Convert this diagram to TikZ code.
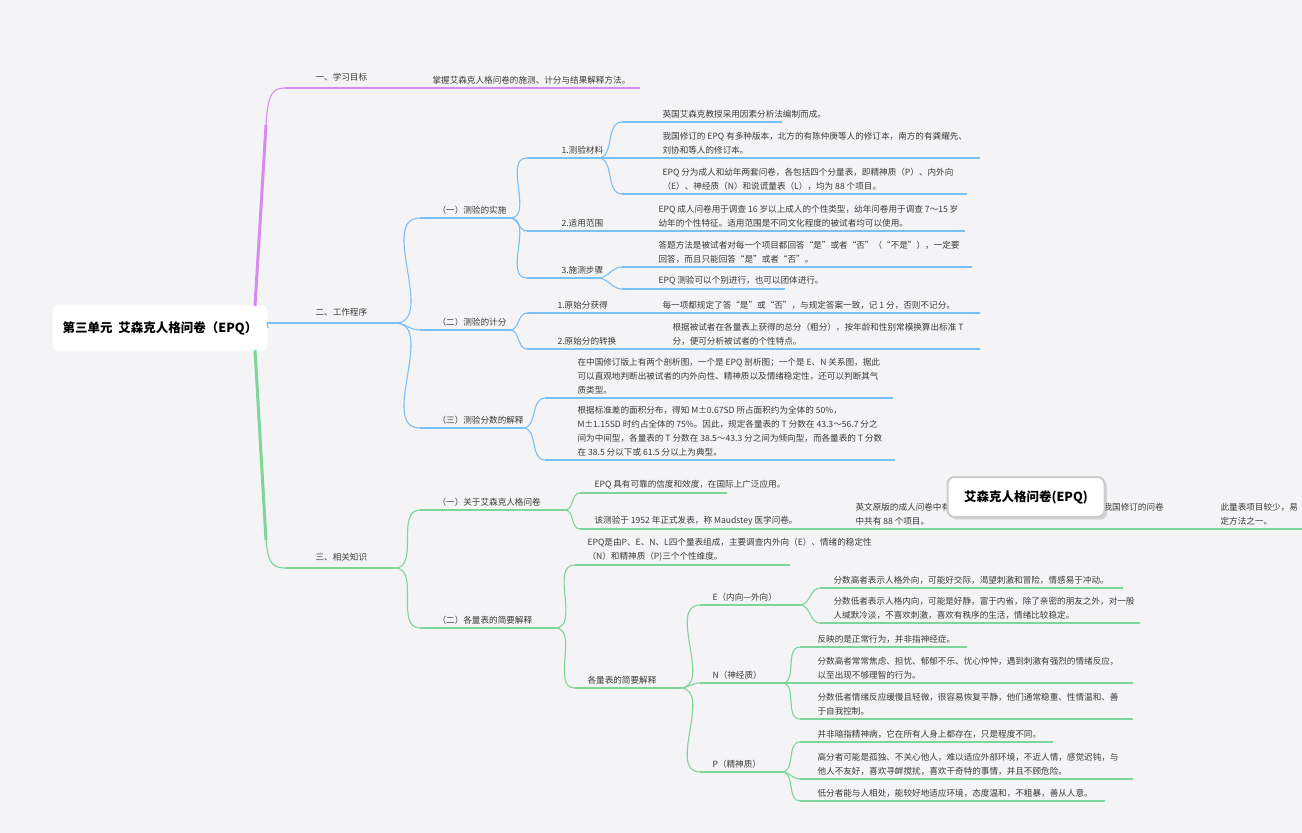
\documentclass[tikz,border=0pt]{standalone}
\usepackage{fontspec}
\setmainfont{Noto Sans CJK SC}
\usetikzlibrary{shadows}
\definecolor{pk}{HTML}{D98AF0}
\definecolor{bl}{HTML}{7CBFF5}
\definecolor{gn}{HTML}{7FD49A}
\definecolor{bg}{HTML}{F4F4F6}
\definecolor{tx}{HTML}{3A3A3A}
\newcommand\ul[5]{\coordinate (#1s) at (#2,#4);\coordinate (#1e) at (#3,#4);\draw[#5] (#1s)--(#1e);}
\newcommand\tx[4]{\node[txt] (#1) at (#2,#3-3) {#4};}
\newcommand\brr[3]{\draw[#3] (#1e) to[out=0,in=180] (#2s);}
\begin{document}
\begin{tikzpicture}[x=1pt,y=-1pt,
  txt/.style={anchor=south west,inner sep=0pt,align=left,text=tx,font=\fontsize{8.6}{14}\selectfont},
  every path/.style={line width=1.1pt}]
\useasboundingbox[fill=bg] (0,0) rectangle (1302,833);
% root
\node[fill=white,rounded corners=6pt,minimum width=215pt,minimum height=46pt,inner sep=0pt,font=\fontsize{12.5}{14}\selectfont\bfseries,text=black] (root) at (160,328) {第三单元\ \ 艾森克人格问卷（EPQ）};
% ---------- branch 1 (pink)
\ul{a}{285}{640}{88}{pk}
\draw[pk,line width=3pt] (255,306) -- (266,125);
\draw[pk] (266,125) .. controls (268,94) and (272,88) .. (as);
\tx{al}{315}{85}{一、学习目标}
\tx{at}{432}{88}{掌握艾森克人格问卷的施测、计分与结果解释方法。}
% ---------- branch 2 (blue)
\ul{b}{267}{395}{323}{bl}
\draw[bl] (root.east) -- (bs);
\tx{bl0}{315}{320}{二、工作程序}
\ul{b1}{420}{510}{218}{bl}\brr{b}{b1}{bl}
\tx{b1t}{437}{218}{（一）测验的实施}
\ul{b2}{420}{510}{330}{bl}\brr{b}{b2}{bl}
\tx{b2t}{437}{330}{（二）测验的计分}
\ul{b3}{420}{523}{428}{bl}\brr{b}{b3}{bl}
\tx{b3t}{437}{428}{（三）测验分数的解释}
% b1 children
\ul{c1}{527}{598}{158}{bl}\brr{b1}{c1}{bl}
\tx{c1t}{561}{158}{1.测验材料}
\ul{c11}{622}{782}{122}{bl}\brr{c1}{c11}{bl}
\tx{c11t}{662}{122}{英国艾森克教授采用因素分析法编制而成。}
\ul{c12}{622}{980}{158}{bl}\brr{c1}{c12}{bl}
\tx{c12t}{662}{158}{我国修订的 EPQ 有多种版本，北方的有陈仲庚等人的修订本，南方的有龚耀先、\\刘协和等人的修订本。}
\ul{c13}{622}{967}{194}{bl}\brr{c1}{c13}{bl}
\tx{c13t}{662}{194}{EPQ 分为成人和幼年两套问卷，各包括四个分量表，即精神质（P）、内外向\\（E）、神经质（N）和说谎量表（L），均为 88 个项目。}
\ul{c2}{527}{965}{231}{bl}\brr{b1}{c2}{bl}
\tx{c2t}{561}{231}{2.适用范围}
\tx{c21t}{658}{231}{EPQ 成人问卷用于调查 16 岁以上成人的个性类型，幼年问卷用于调查 7～15 岁\\幼年的个性特征。适用范围是不同文化程度的被试者均可以使用。}
\ul{c3}{527}{598}{278}{bl}\brr{b1}{c3}{bl}
\tx{c3t}{561}{278}{3.施测步骤}
\ul{c31}{622}{972}{267}{bl}\brr{c3}{c31}{bl}
\tx{c31t}{658}{267}{答题方法是被试者对每一个项目都回答“是”或者“否”（“不是”），一定要\\回答，而且只能回答“是”或者“否”。}
\ul{c32}{622}{785}{289}{bl}\brr{c3}{c32}{bl}
\tx{c32t}{658}{289}{EPQ 测验可以个别进行，也可以团体进行。}
% b2 children
\ul{d1}{527}{980}{313}{bl}\brr{b2}{d1}{bl}
\tx{d1t}{557}{313}{1.原始分获得}
\tx{d11t}{662}{313}{每一项都规定了答“是”或“否”，与规定答案一致，记 1 分，否则不记分。}
\ul{d2}{527}{980}{349}{bl}\brr{b2}{d2}{bl}
\tx{d2t}{557}{349}{2.原始分的转换}
\tx{d21t}{672}{349}{根据被试者在各量表上获得的总分（粗分），按年龄和性别常模换算出标准 T\\分，便可分析被试者的个性特点。}
% b3 children
\ul{e1}{545}{893}{398}{bl}\brr{b3}{e1}{bl}
\tx{e1t}{577}{398}{在中国修订版上有两个剖析图，一个是 EPQ 剖析图；一个是 E、N 关系图，据此\\可以直观地判断出被试者的内外向性、精神质以及情绪稳定性，还可以判断其气\\质类型。}
\ul{e2}{545}{895}{460}{bl}\brr{b3}{e2}{bl}
\tx{e2t}{577}{460}{根据标准差的面积分布，得知 M±0.67SD 所占面积约为全体的 50\%，\\M±1.15SD 时约占全体的 75\%。因此，规定各量表的 T 分数在 43.3～56.7 分之\\间为中间型，各量表的 T 分数在 38.5～43.3 分之间为倾向型，而各量表的 T 分数\\在 38.5 分以下或 61.5 分以上为典型。}
% ---------- branch 3 (green)
\ul{g}{285}{395}{568}{gn}
\draw[gn,line width=3pt] (255,350) -- (266,540);
\draw[gn] (266,540) .. controls (268,562) and (272,568) .. (gs);
\tx{gl0}{315}{565}{三、相关知识}
\ul{g1}{420}{565}{510}{gn}\brr{g}{g1}{gn}
\tx{g1t}{437}{510}{（一）关于艾森克人格问卷}
\ul{g2}{420}{555}{628}{gn}\brr{g}{g2}{gn}
\tx{g2t}{437}{628}{（二）各量表的简要解释}
\ul{h1}{580}{727}{493}{gn}\brr{g1}{h1}{gn}
\tx{h1t}{594}{493}{EPQ 具有可靠的信度和效度，在国际上广泛应用。}
\ul{h2}{580}{1302}{529}{gn}\brr{g1}{h2}{gn}
\tx{h2t}{594}{529}{该测验于 1952 年正式发表，称 Maudstey 医学问卷。}
\tx{h21t}{855}{529}{英文原版的成人问卷中有\\中共有 88 个项目。}
\tx{h22t}{1103}{515}{我国修订的问卷}
\tx{h23t}{1220}{529}{此量表项目较少，易\\定方法之一。}
\ul{i1}{575}{790}{565}{gn}\brr{g2}{i1}{gn}
\tx{i1t}{587}{565}{EPQ是由P、E、N、L四个量表组成，主要调查内外向（E）、情绪的稳定性\\（N）和精神质（P)三个个性维度。}
\ul{i2}{575}{680}{688}{gn}\brr{g2}{i2}{gn}
\tx{i2t}{587}{688}{各量表的简要解释}
\ul{j1}{700}{800}{605}{gn}\brr{i2}{j1}{gn}
\tx{j1t}{712}{605}{E（内向—外向）}
\ul{j11}{820}{1123}{588}{gn}\brr{j1}{j11}{gn}
\tx{j11t}{833}{588}{分数高者表示人格外向，可能好交际，渴望刺激和冒险，情感易于冲动。}
\ul{j12}{820}{1140}{623}{gn}\brr{j1}{j12}{gn}
\tx{j12t}{833}{623}{分数低者表示人格内向，可能是好静，富于内省，除了亲密的朋友之外，对一般\\人缄默冷淡，不喜欢刺激，喜欢有秩序的生活，情绪比较稳定。}
\ul{j2}{700}{782}{683}{gn}\brr{i2}{j2}{gn}
\tx{j2t}{712}{683}{N（神经质）}
\ul{j21}{800}{967}{647}{gn}\brr{j2}{j21}{gn}
\tx{j21t}{817}{647}{反映的是正常行为，并非指神经症。}
\ul{j22}{800}{1133}{683}{gn}\brr{j2}{j22}{gn}
\tx{j22t}{817}{683}{分数高者常常焦虑、担忧、郁郁不乐、忧心忡忡，遇到刺激有强烈的情绪反应，\\以至出现不够理智的行为。}
\ul{j23}{800}{1133}{719}{gn}\brr{j2}{j23}{gn}
\tx{j23t}{817}{719}{分数低者情绪反应缓慢且轻微，很容易恢复平静，他们通常稳重、性情温和、善\\于自我控制。}
\ul{j3}{700}{782}{772}{gn}\brr{i2}{j3}{gn}
\tx{j3t}{712}{772}{P（精神质）}
\ul{j31}{800}{1053}{742}{gn}\brr{j3}{j31}{gn}
\tx{j31t}{817}{742}{并非暗指精神病，它在所有人身上都存在，只是程度不同。}
\ul{j32}{800}{1133}{779}{gn}\brr{j3}{j32}{gn}
\tx{j32t}{817}{779}{高分者可能是孤独、不关心他人，难以适应外部环境，不近人情，感觉迟钝，与\\他人不友好，喜欢寻衅搅扰，喜欢干奇特的事情，并且不顾危险。}
\ul{j33}{800}{1105}{801}{gn}\brr{j3}{j33}{gn}
\tx{j33t}{817}{801}{低分者能与人相处，能较好地适应环境，态度温和，不粗暴，善从人意。}
% floating box
\node[fill=white,draw=gray!40,line width=2pt,rounded corners=7pt,minimum width=157pt,minimum height=40pt,inner sep=0pt,font=\fontsize{12.5}{14}\selectfont\bfseries,text=black,drop shadow={opacity=0.25}] (fl) at (1026,497) {艾森克人格问卷(EPQ)};
\end{tikzpicture}
\end{document}
